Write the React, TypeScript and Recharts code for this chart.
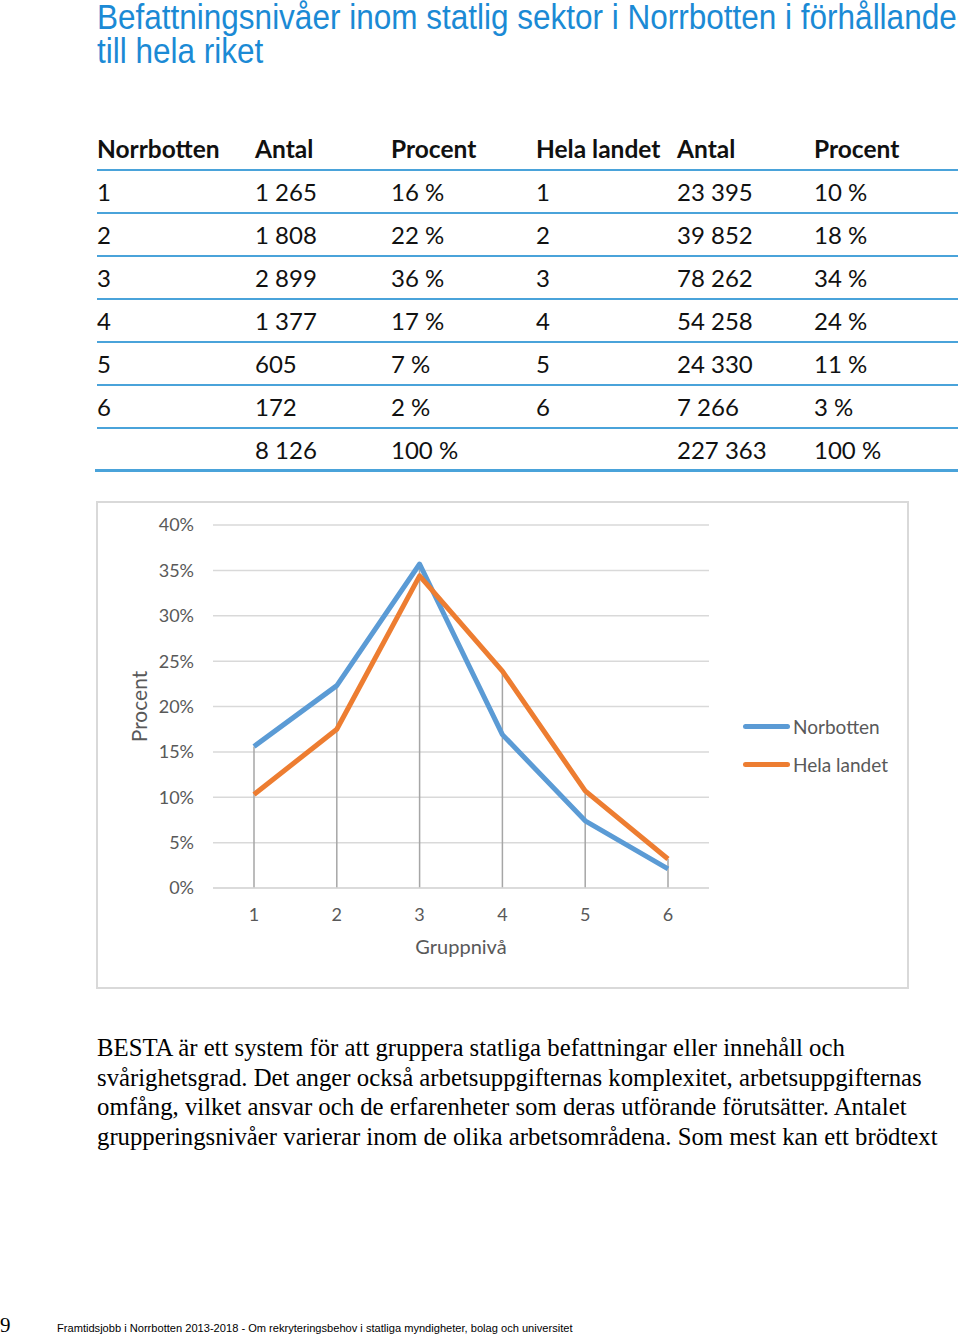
import React from 'react';
import { LineChart, Line, XAxis, YAxis, CartesianGrid, Legend, ReferenceLine, Label } from 'recharts';

// ---- table data ----
const levels = ['1', '2', '3', '4', '5', '6'];
const norrAntal = ['1 265', '1 808', '2 899', '1 377', '605', '172'];
const norrProcent = ['16 %', '22 %', '36 %', '17 %', '7 %', '2 %'];
const helaAntal = ['23 395', '39 852', '78 262', '54 258', '24 330', '7 266'];
const helaProcent = ['10 %', '18 %', '34 %', '24 %', '11 %', '3 %'];
const totals = ['', '8 126', '100 %', '', '227 363', '100 %'];
const headers = ['Norrbotten', 'Antal', 'Procent', 'Hela landet', 'Antal', 'Procent'];

// ---- chart data (share of total) ----
const norrbottenShare = [0.156, 0.223, 0.357, 0.169, 0.074, 0.021];
const helaLandetShare = [0.103, 0.175, 0.344, 0.239, 0.107, 0.032];
const yTicks = [0, 0.05, 0.1, 0.15, 0.2, 0.25, 0.3, 0.35, 0.4];

const chartData = levels.map((l, i) => ({
  level: l,
  norr: norrbottenShare[i],
  hela: helaLandetShare[i],
  top: Math.max(norrbottenShare[i], helaLandetShare[i]),
}));

const titleLines = [
  'Befattningsnivåer inom statlig sektor i Norrbotten i förhållande',
  'till hela riket',
];

const paragraph = [
  'BESTA är ett system för att gruppera statliga befattningar eller innehåll och',
  'svårighetsgrad. Det anger också arbetsuppgifternas komplexitet, arbetsuppgifternas',
  'omfång, vilket ansvar och de erfarenheter som deras utförande förutsätter. Antalet',
  'grupperingsnivåer varierar inom de olika arbetsområdena. Som mest kan ett brödtext',
];

const colX = [97, 255, 391, 536, 677, 814];
const BLUE = '#5b9bd5';
const ORANGE = '#ed7d31';
const GREY_TEXT = '#595959';

const LegendContent = () => (
  <div style={{ fontFamily: 'Lato, sans-serif', fontSize: 19, color: GREY_TEXT }}>
    {[
      { name: 'Norbotten', color: BLUE },
      { name: 'Hela landet', color: ORANGE },
    ].map((it) => (
      <div key={it.name} style={{ display: 'flex', alignItems: 'center', height: 38 }}>
        <div style={{ width: 47, height: 5, borderRadius: 3, background: it.color, marginRight: 3 }} />
        <span style={{ whiteSpace: 'nowrap' }}>{it.name}</span>
      </div>
    ))}
  </div>
);

const rowsAll = [
  ...levels.map((l, i) => [l, norrAntal[i], norrProcent[i], l, helaAntal[i], helaProcent[i]]),
  totals,
];

export default function App() {
  return (
    <div style={{ position: 'absolute', left: 0, top: 0, width: 960, height: 1336, background: '#fff', overflow: 'hidden' }}>
      {/* Title */}
      {titleLines.map((t, i) => (
        <div
          key={'t' + i}
          style={{
            position: 'absolute', left: 97, top: i * 34, height: 34,
            fontFamily: '"Liberation Sans", Arial, sans-serif',
            fontSize: 35, lineHeight: '34px', color: '#1b8ad5', whiteSpace: 'nowrap',
            transform: 'scaleX(0.9)', transformOrigin: 'left top',
          }}
        >
          {t}
        </div>
      ))}

      {/* Table */}
      {headers.map((h, c) => (
        <div key={'h' + c} style={{ position: 'absolute', left: colX[c], top: 134, fontFamily: 'Lato, sans-serif', fontWeight: 700, fontSize: 24.5, lineHeight: '30px', color: '#111', whiteSpace: 'nowrap' }}>{h}</div>
      ))}
      {rowsAll.map((r, ri) =>
        r.map((cell, c) => (
          <div key={ri + '-' + c} style={{ position: 'absolute', left: colX[c], top: 177 + ri * 43, fontFamily: 'Lato, sans-serif', fontSize: 24, lineHeight: '30px', color: '#111', whiteSpace: 'nowrap' }}>{cell}</div>
        ))
      )}
      {[170, 213, 256, 299, 342, 385, 428].map((y) => (
        <div key={'l' + y} style={{ position: 'absolute', left: 97, top: y - 1, width: 861, height: 2, background: '#4aa3da' }} />
      ))}
      <div style={{ position: 'absolute', left: 95, top: 469, width: 863, height: 3, background: '#4aa3da' }} />

      {/* Chart */}
      <div style={{ position: 'absolute', left: 96, top: 501, width: 813, height: 488, outline: '2px solid #d9d9d9', outlineOffset: -2 }}>
        <LineChart width={813} height={488} data={chartData} margin={{ top: 24, right: 200, bottom: 71, left: 0 }} style={{ fontFamily: 'Lato, sans-serif' }}>
          <CartesianGrid vertical={false} stroke="#d9d9d9" strokeWidth={1.5} />
          <XAxis
            dataKey="level"
            padding={{ left: 41, right: 41 }}
            tickLine={false}
            axisLine={{ stroke: '#d9d9d9', strokeWidth: 1.5 }}
            tickSize={0}
            tickMargin={20}
            tick={{ fill: GREY_TEXT, fontSize: 18 }}
          >
            <Label value="Gruppnivå" position="bottom" offset={22} style={{ fill: GREY_TEXT, fontSize: 20 }} />
          </XAxis>
          <YAxis
            width={117}
            domain={[0, 0.4]}
            ticks={yTicks}
            tickFormatter={(v: number) => `${Math.round(v * 100)}%`}
            axisLine={false}
            tickLine={false}
            tickSize={0}
            tickMargin={19}
            tick={{ fill: GREY_TEXT, fontSize: 18 }}
          >
            <Label value="Procent" angle={-90} position="insideLeft" offset={44} style={{ fill: GREY_TEXT, fontSize: 21, textAnchor: 'middle' }} />
          </YAxis>
          {chartData.map((d) => (
            <ReferenceLine
              key={'drop' + d.level}
              segment={[{ x: d.level, y: 0 }, { x: d.level, y: d.top }]}
              stroke="#a6a6a6"
              strokeWidth={1.5}
            />
          ))}
          <Line type="linear" dataKey="norr" name="Norbotten" stroke={BLUE} strokeWidth={5} dot={false} strokeLinejoin="round" isAnimationActive={false} />
          <Line type="linear" dataKey="hela" name="Hela landet" stroke={ORANGE} strokeWidth={5} dot={false} strokeLinejoin="round" isAnimationActive={false} />
          <Legend
            layout="vertical"
            align="center"
            verticalAlign="middle"
            content={<LegendContent />}
            wrapperStyle={{ left: 647, top: 206, width: 170, height: 80 }}
          />
        </LineChart>
      </div>

      {/* Paragraph */}
      {paragraph.map((t, i) => (
        <div key={'p' + i} style={{ position: 'absolute', left: 97, top: 1033 + i * 29.5, fontFamily: '"Liberation Serif", "Times New Roman", serif', fontSize: 24.75, lineHeight: '29px', color: '#000', whiteSpace: 'nowrap' }}>{t}</div>
      ))}

      {/* Footer */}
      <div style={{ position: 'absolute', left: 0, top: 1313, fontFamily: '"Liberation Serif", serif', fontSize: 21, color: '#000' }}>9</div>
      <div style={{ position: 'absolute', left: 57, top: 1322, fontFamily: '"Liberation Sans", Arial, sans-serif', fontSize: 11.1, color: '#000', whiteSpace: 'nowrap' }}>
        Framtidsjobb i Norrbotten 2013-2018 - Om rekryteringsbehov i statliga myndigheter, bolag och universitet
      </div>
    </div>
  );
}
